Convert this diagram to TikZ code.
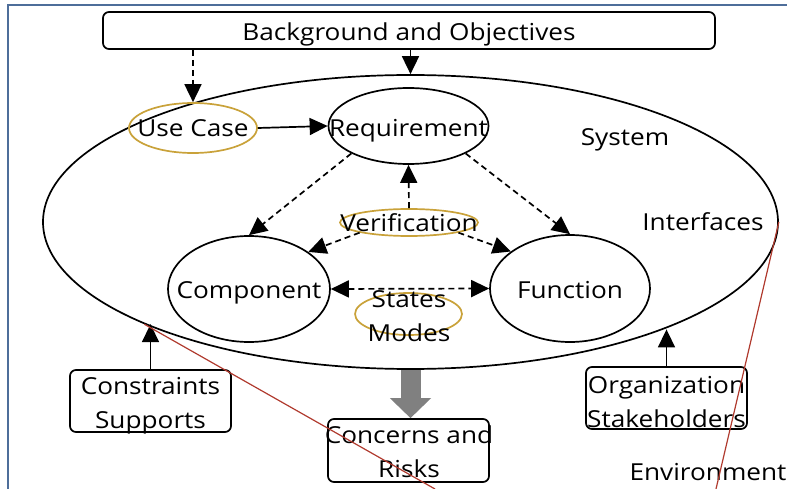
\documentclass[tikz,border=0pt]{standalone}
\usepackage{fontspec}
\setmainfont{Open Sans}[FakeStretch=1.12]
\usetikzlibrary{shapes.geometric,arrows.meta}
\definecolor{gold}{HTML}{C9A23A}
\definecolor{redline}{HTML}{B03A2E}
\definecolor{framecol}{HTML}{4E6E9A}
\definecolor{grayarrow}{HTML}{808080}
\begin{document}
\begin{tikzpicture}[x=1pt,y=-1pt,
  txt/.style={font=\fontsize{23.4}{34}\selectfont, inner sep=0pt, anchor=base, align=center},
  ell/.style={draw, ellipse, inner sep=0pt, line width=1.7pt},
  gell/.style={draw=gold, ellipse, inner sep=0pt, line width=1.7pt},
  box/.style={draw, rounded corners=6pt, inner sep=0pt, line width=1.7pt},
  arr/.style={-{Triangle[length=18pt 0 0,width=17pt 0 0]}, line width=1.7pt},
  darr/.style={arr, dash pattern=on 6pt off 4pt},
  redl/.style={draw=redline, line width=1.2pt},
  framel/.style={draw=framecol, line width=2pt}
]
\useasboundingbox (0,0) rectangle (787,489);
\draw[framel] (8,489) -- (8,5) -- (787,5);

% shapes
\node[box, minimum width=612pt, minimum height=37pt] (bg) at (409,30.5) {};
\node[ell, minimum width=735pt, minimum height=294pt] (sys) at (410.5,222) {};
\node[gell, minimum width=128pt, minimum height=50pt] (uc) at (193,128) {};
\node[ell, minimum width=160pt, minimum height=76pt] (req) at (408.5,126) {};
\node[gell, minimum width=138pt, minimum height=27pt] (ver) at (409,222.5) {};
\node[ell, minimum width=162pt, minimum height=106pt] (comp) at (249,289) {};
\node[ell, minimum width=160pt, minimum height=107pt] (func) at (570,288.5) {};
\node[gell, minimum width=107pt, minimum height=42pt] (st) at (408.5,314) {};
\node[box, minimum width=161pt, minimum height=62pt] (cons) at (150.5,401) {};
\node[box, minimum width=161pt, minimum height=63pt] (conc) at (408.5,450.5) {};
\node[box, minimum width=161pt, minimum height=62pt] (org) at (666.5,398) {};

% connectors
\draw[darr] (uc |- bg.south) -- (uc.north);
\draw[arr] (sys.north |- bg.south) -- (sys.north);
\draw[arr] (uc.east) -- (req.west);
\draw[darr] (req.south west) -- (comp.north);
\draw[darr] (req.south east) -- (func.north);
\draw[darr] (ver.north) -- (req.south);
\draw[darr] (ver.south west) -- (comp.32);
\draw[darr] (ver.south east) -- (func.148);
\draw[darr, {Triangle[length=18pt 0 0,width=17pt 0 0]}-{Triangle[length=18pt 0 0,width=17pt 0 0]}] (comp.east) -- (func.west);
\draw[arr] (cons.north) -- (cons.north |- sys.201.8);
\draw[arr] (org.north) -- (org.north |- sys.337.9);
\draw[grayarrow, line width=20pt, -{Triangle[length=20pt 0 0,width=40pt 0 0]}] (sys.south) -- (sys.south |- conc.north);

% texts
\node[txt] (bgT) at (409,40.5) {Background and Objectives};
\node[txt] (ucT) at (193,137) {Use Case};
\node[txt] (reqT) at (408.5,137) {Requirement};
\node[txt] (sysT) at (625,146) {System};
\node[txt] (ifT) at (703,231) {Interfaces};
\node[txt] (verT) at (409,232) {Verification};
\node[txt] (compT) at (249,298) {Component};
\node[txt] (funcT) at (570,298) {Function};
\node[txt] (stT) at (409,341) {States\\Modes};
\node[txt] (consT) at (150.5,428) {Constraints\\Supports};
\node[txt] (concT) at (409,477) {Concerns and\\Risks};
\node[txt] (orgT) at (666.5,427) {Organization\\Stakeholders};
\node[txt] (envT) at (708,480) {Environment};

% red lines
\coordinate (r1end) at (435,489);
\coordinate (r2end) at (716,489);
\draw[redl] (sys.201.8) -- (r1end);
\draw[redl] (sys.east) -- (r2end);
\end{tikzpicture}
\end{document}
